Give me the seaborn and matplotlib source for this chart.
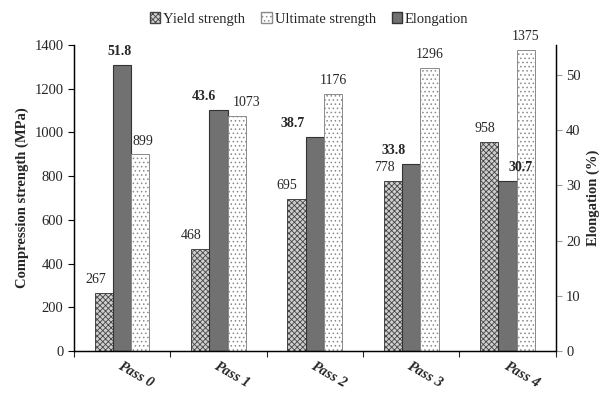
import numpy as np
import pandas as pd
import seaborn as sns
import matplotlib.pyplot as plt
from matplotlib.patches import Patch
from matplotlib.ticker import FixedLocator

# DATA
passes = ['Pass 0', 'Pass 1', 'Pass 2', 'Pass 3', 'Pass 4']
yield_strength = [267, 468, 695, 778, 958]
ultimate_strength = [899, 1073, 1176, 1296, 1375]
elongation = [51.8, 43.6, 38.7, 33.8, 30.7]

series = ['Yield strength', 'Elongation', 'Ultimate strength']

# secondary axis limits, elongation is drawn on the left scale and the right axis relabels it
left_max = 1400
right_max = 55.4
k = left_max / right_max

df = pd.DataFrame({
    'Pass': passes * 3,
    'Property': ['Yield strength'] * 5 + ['Elongation'] * 5 + ['Ultimate strength'] * 5,
    'Value': yield_strength + [e * k for e in elongation] + ultimate_strength,
})

sns.set_style('ticks')
plt.rcParams['font.family'] = ['Liberation Serif', 'DejaVu Serif']
plt.rcParams['hatch.linewidth'] = 0.6

fig = plt.figure(figsize=(6.1, 3.94), dpi=100)
ax = fig.add_axes([0.121, 0.109, 0.79, 0.777])

sns.barplot(data=df, x='Pass', y='Value', hue='Property', hue_order=series,
            order=passes, width=0.57, gap=0, ax=ax, legend=False, errorbar=None,
            saturation=1)
ax2 = ax.twinx()

styles = {
    'Yield strength': dict(facecolor='#cfcfcf', edgecolor='#444444', hatch='xxxxxx', linewidth=0.7),
    'Elongation': dict(facecolor='#717171', edgecolor='#333333', hatch=None, linewidth=0.8),
    'Ultimate strength': dict(facecolor='white', edgecolor='#8a8a8a', hatch='....', linewidth=0.7),
}
for cont, lab in zip(ax.containers, series):
    for b in cont:
        b.set(**styles[lab])

# value labels (horizontal nudges in px, like the original placement)
shift_px = {
    'Yield strength': [-8, -9, -10, -8, -4],
    'Elongation': [-2, -15, -22, -18, 13],
    'Ultimate strength': [3, 10, 0, 0, 0],
}
texts = {
    'Yield strength': [str(v) for v in yield_strength],
    'Elongation': ['%.1f' % v for v in elongation],
    'Ultimate strength': [str(v) for v in ultimate_strength],
}
pad = 5
for cont, lab in zip(ax.containers, series):
    anns = ax.bar_label(cont, labels=texts[lab], padding=pad, fontsize=10,
                        fontweight='bold' if lab == 'Elongation' else 'normal')
    for a, dx in zip(anns, shift_px[lab]):
        a.xyann = (dx * 0.72, pad)

ax.set_ylim(0, left_max)
ax.set_yticks(range(0, 1401, 200))
ax2.set_ylim(0, right_max)
ax2.set_yticks(range(0, 51, 10))
ax.set_xlim(-0.5, 4.5)

ax.set_xlabel('')
ax.set_ylabel('Compression strength (MPa)', fontsize=10.5, fontweight='bold')
ax2.set_ylabel('Elongation (%)', fontsize=10.5, fontweight='bold')

ax.tick_params(axis='y', labelsize=10.5, length=4, width=0.8, color='black')
ax2.tick_params(axis='y', labelsize=10.5, length=4, width=0.8, color='#999999')
ax.xaxis.set_minor_locator(FixedLocator(np.arange(-0.5, 5, 1)))
ax.tick_params(axis='x', which='major', length=0, pad=6)
ax.tick_params(axis='x', which='minor', length=4, width=0.8)
for t in ax.get_xticklabels():
    t.set_rotation(-30)
    t.set_ha('left')
    t.set_va('top')
    t.set_rotation_mode('anchor')
    t.set_fontweight('bold')
    t.set_fontstyle('italic')
    t.set_fontsize(10.5)

for a in (ax, ax2):
    a.spines['top'].set_visible(False)
    for s in ('left', 'right', 'bottom'):
        a.spines[s].set_color('black')
        a.spines[s].set_linewidth(0.9)

handles = [
    Patch(facecolor='#cfcfcf', edgecolor='#444444', hatch='xxxxxx', label='Yield strength'),
    Patch(facecolor='white', edgecolor='#8a8a8a', hatch='....', label='Ultimate strength'),
    Patch(facecolor='#717171', edgecolor='#333333', label='Elongation'),
]
fig.legend(handles=handles, loc='center', bbox_to_anchor=(0.507, 0.952), ncol=3,
           frameon=False, fontsize=10.5, handlelength=0.7, handleheight=0.7,
           handletextpad=0.2, columnspacing=1.1)

fig.savefig('out.png', dpi=100)
